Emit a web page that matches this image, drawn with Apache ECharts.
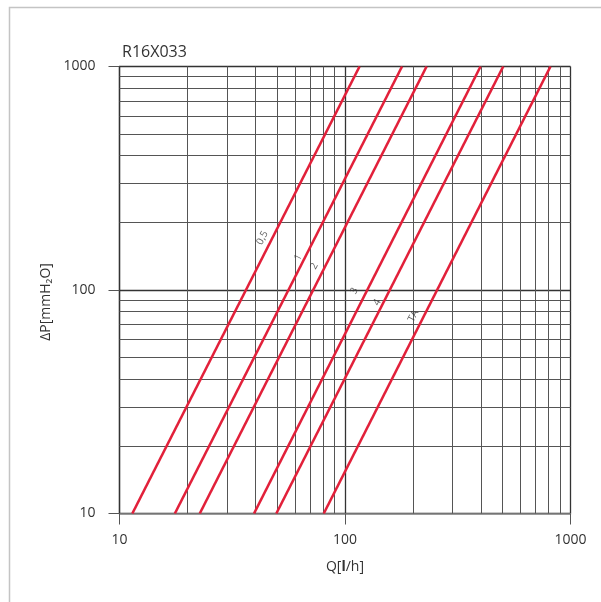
<!DOCTYPE html>
<html>
<head>
<meta charset="utf-8">
<script src="https://cdn.jsdelivr.net/npm/echarts@6/dist/echarts.min.js"></script>
<style>html,body{margin:0;padding:0;background:#fff;}#c{width:601px;height:602px;}</style>
</head>
<body>
<div id="c"></div>
<script>
// ---- data ----
const title = 'R16X033';
const curveNames = ['0,5', '1', '2', '3', '4', 'TA'];
const qAtLow = [11.4, 17.6, 22.7, 39.5, 49.6, 80.5];     // Q [l/h] at ΔP = 10
const qAtHigh = [116, 179, 230, 399, 503, 815];         // Q [l/h] at ΔP = 1000
const dpLow = 10;
const dpHigh = 1000;
const labelQ = [43.0, 62.1, 73.1, 110, 139, 201];
const labelDP = [171, 140, 128, 99, 88, 76.5];
const minorGrid = [20, 30, 40, 50, 60, 70, 80, 90, 200, 300, 400, 500, 600, 700, 800, 900];
const xTicks = [10, 100, 1000];
const yTicks = [10, 100, 1000];

const FONT = '"Open Sans", "DejaVu Sans", sans-serif';
const RED = '#e2203a';

const chart = echarts.init(document.getElementById('c'), null, {renderer: 'canvas'});

const series = [];
// minor grid lines
series.push({
  type: 'line', data: [], z: 1, silent: true, animation: false,
  markLine: {
    silent: true, animation: false, symbol: ['none', 'none'],
    label: {show: false},
    lineStyle: {color: '#555', width: 1, type: 'solid'},
    emphasis: {disabled: true},
    data: minorGrid.map(v => ({xAxis: v})).concat(minorGrid.map(v => ({yAxis: v})))
  }
});
curveNames.forEach((n, i) => {
  series.push({
    name: n, type: 'line', z: 5, showSymbol: false, symbol: 'none', animation: false,
    lineStyle: {color: RED, width: 2.6},
    data: [[qAtLow[i], dpLow], [qAtHigh[i], dpHigh]]
  });
});
series.push({
  type: 'scatter', z: 6, animation: false, silent: true,
  symbolSize: 1, itemStyle: {color: 'rgba(0,0,0,0)'},
  label: {
    show: true, position: 'inside', rotate: 63,
    formatter: p => curveNames[p.dataIndex],
    fontSize: 10, color: '#333', fontFamily: FONT
  },
  data: labelQ.map((q, i) => [q, labelDP[i]])
});

const fmt = v => String(Math.round(v));

chart.setOption({
  backgroundColor: '#fff',
  animation: false,
  title: {
    text: title, left: 117, top: 39,
    textStyle: {fontFamily: FONT, fontSize: 16, fontWeight: 'normal', color: '#333'}
  },
  grid: {left: 119.5, right: 30.5, top: 66.5, bottom: 88.5, show: false},
  xAxis: {
    type: 'log', logBase: 10, min: xTicks[0], max: xTicks[xTicks.length - 1],
    name: '{a|Q[}{b|l}{a|/h]}', nameLocation: 'middle', nameGap: 47,
    nameTextStyle: {rich: {a: {fontFamily: FONT, fontSize: 14, color: '#333'}, b: {fontFamily: FONT, fontSize: 14, color: '#333', fontWeight: 'bold'}}},
    axisLine: {show: true, lineStyle: {color: '#8a8a8a', width: 1.5}},
    axisTick: {show: true, length: 11, lineStyle: {color: '#555', width: 1}},
    axisLabel: {fontFamily: FONT, fontSize: 14, color: '#333', margin: 20, formatter: fmt},
    splitLine: {show: true, lineStyle: {color: '#333', width: 1.3}},
    minorTick: {show: false}, minorSplitLine: {show: false}
  },
  yAxis: {
    type: 'log', logBase: 10, min: yTicks[0], max: yTicks[yTicks.length - 1],
    name: 'ΔP[mmH₂O]', nameLocation: 'middle', nameGap: 60, nameRotate: 90,
    nameTextStyle: {fontFamily: FONT, fontSize: 14, color: '#333', padding: [0, 0, 0, -24]},
    axisLine: {show: true, lineStyle: {color: '#333', width: 1.3}},
    axisTick: {show: true, length: 11, lineStyle: {color: '#555', width: 1}},
    axisLabel: {fontFamily: FONT, fontSize: 14, color: '#333', margin: 24, formatter: fmt},
    splitLine: {show: true, lineStyle: {color: '#333', width: 1.3}},
    minorTick: {show: false}, minorSplitLine: {show: false}
  },
  graphic: [{
    type: 'polyline', silent: true, z: 100,
    shape: {points: [[9.5, 610], [9.5, 7.5], [610, 7.5]]},
    style: {stroke: '#c4c4c4', lineWidth: 1.5, fill: null}
  }],
  series: series
});
</script>
</body>
</html>
